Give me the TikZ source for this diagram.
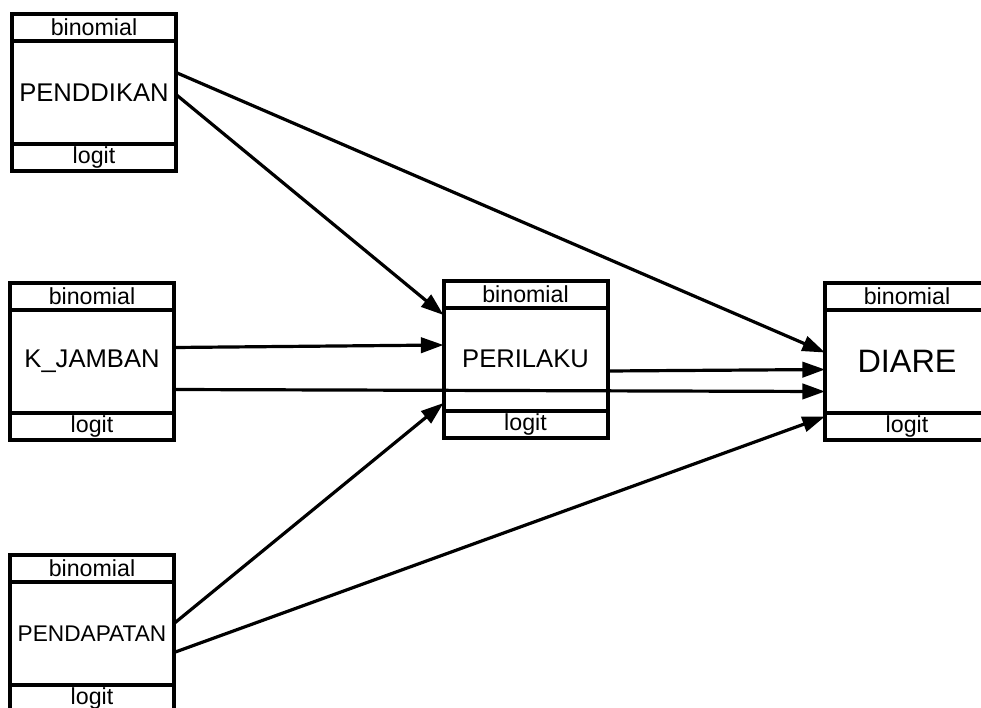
\documentclass[tikz,border=0pt]{standalone}
\usepackage{fontspec}
\setmainfont{Liberation Sans}
\usetikzlibrary{arrows.meta,positioning}

\tikzset{
  block/.style={draw, line width=3pt, outer sep=0pt, inner sep=0pt,
    minimum width=123pt, minimum height=117.75pt,
    font=\fontsize{19.2}{21}\selectfont},
  row/.style={draw, line width=3pt, outer sep=0pt, inner sep=0pt,
    minimum width=123pt, minimum height=20.25pt,
    font=\fontsize{17.4}{19}\selectfont},
  arr/.style={line width=2.4pt, -{Triangle[length=17pt,width=11.5pt]}}
}

\begin{document}
\begin{tikzpicture}[x=0.75pt, y=-0.75pt]
  \useasboundingbox (0,0) rectangle (981,707);
  \clip (0,0) rectangle (981,707);

  % predictors
  \node[block] (pendd)  at (94,92.5)  {PENDDIKAN};
  \node[block] (jamban) at (92,361.5) {K\_JAMBAN};
  \node[block, font=\fontsize{17}{19}\selectfont] (pendap) at (92,633.5) {PENDAPATAN};
  % mediator and outcome
  \node[block] (peril)  at (525.5,359) {PERILAKU};
  \node[block, font=\fontsize{24.3}{27}\selectfont] (diare) at (907,361.5) {DIARE};

  \foreach \b in {pendd,jamban,pendap,peril,diare} {
    \node[row, below=0pt of \b.north] (\b-top) {binomial};
    \node[row, above=0pt of \b.south] (\b-bot) {logit};
  }

  % paths
  \draw[arr] ([shift={(0,-20)}]pendd.east)  -- ([shift={(0,-9)}]diare.west);
  \draw[arr] ([shift={(0,2)}]pendd.east)    -- ([shift={(0,-44)}]peril.west);
  \draw[arr] ([shift={(0,-14)}]jamban.east) -- ([shift={(0,-14)}]peril.west);
  \draw[arr] ([shift={(0,28)}]jamban.east)  -- ([shift={(0,30)}]diare.west);
  \draw[arr] ([shift={(0,12)}]peril.east)   -- ([shift={(0,8)}]diare.west);
  \draw[arr] ([shift={(0,-10)}]pendap.east) -- ([shift={(0,44)}]peril.west);
  \draw[arr] ([shift={(0,19)}]pendap.east)  -- ([shift={(0,55)}]diare.west);
\end{tikzpicture}
\end{document}
